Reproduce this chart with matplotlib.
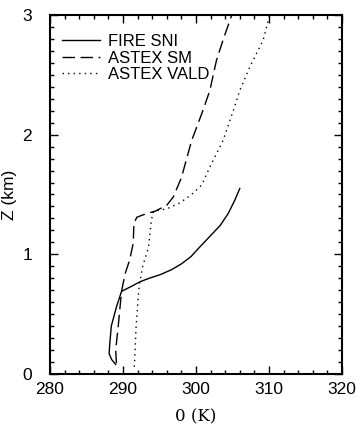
import numpy as np
import matplotlib.pyplot as plt
from matplotlib.ticker import MultipleLocator

plt.rcParams['font.family'] = ['Liberation Sans', 'DejaVu Sans']

# potential temperature (K) vs height (km)
fire_theta = [289.0, 288.45, 288.1, 288.2, 288.4, 289.1, 289.8, 291.4, 292.3, 293.6,
              295.1, 296.6, 298.0, 299.3, 300.5, 301.9, 303.3, 304.4, 305.3, 306.0]
fire_z = [0.08, 0.12, 0.17, 0.26, 0.40, 0.56, 0.69, 0.74, 0.77, 0.80,
          0.83, 0.87, 0.92, 0.98, 1.06, 1.15, 1.24, 1.34, 1.45, 1.55]

sm_theta = [289.1, 289.0, 289.35, 289.8, 290.3, 290.9, 291.4, 291.5, 291.9, 293.2,
            294.4, 296.0, 296.9, 298.0, 299.4, 301.0, 301.9, 302.8, 303.7, 304.9]
sm_z = [0.09, 0.20, 0.40, 0.69, 0.84, 0.95, 1.09, 1.26, 1.31, 1.34,
        1.36, 1.41, 1.48, 1.64, 1.95, 2.21, 2.37, 2.62, 2.79, 3.0]

vald_theta = [291.55, 291.8, 292.2, 292.7, 293.5, 293.9, 294.2, 296.0, 297.8, 299.4,
              300.8, 301.9, 303.7, 305.1, 306.0, 307.4, 309.2, 310.1]
vald_z = [0.06, 0.40, 0.73, 0.90, 1.06, 1.29, 1.36, 1.38, 1.43, 1.50,
          1.58, 1.73, 1.95, 2.20, 2.37, 2.57, 2.79, 3.0]

fig = plt.figure(figsize=(3.57, 4.41), dpi=100)
ax = fig.add_axes([0.14, 0.152, 0.818, 0.814])

ax.plot(fire_theta, fire_z, color='black', lw=1.0, label='FIRE SNI')
ax.plot(sm_theta, sm_z, color='black', lw=1.0, dashes=(9, 4), label='ASTEX SM')
ax.plot(vald_theta, vald_z, color='black', lw=1.0, dashes=(1, 3), label='ASTEX VALD')

ax.set_xlim(280, 320)
ax.set_ylim(0, 3)
ax.xaxis.set_major_locator(MultipleLocator(10))
ax.xaxis.set_minor_locator(MultipleLocator(2))
ax.yaxis.set_major_locator(MultipleLocator(1))
ax.yaxis.set_minor_locator(MultipleLocator(0.1))
ax.tick_params(which='both', direction='in', top=True, right=True, labelsize=12.5)
ax.tick_params(which='major', length=6, width=1)
ax.tick_params(which='minor', length=3, width=1)
ax.tick_params(axis='y', pad=13)
ax.tick_params(axis='x', pad=6)
for s in ax.spines.values():
    s.set_linewidth(1.5)

ax.set_ylabel('Z (km)', fontsize=12.5, labelpad=4)
ax.set_xlabel('0 (K)', fontsize=12, family='DejaVu Serif', labelpad=8)

ax.legend(loc='upper left', frameon=False, fontsize=12, handlelength=2.3,
          handletextpad=0.5, labelspacing=0.1, borderaxespad=0.3,
          bbox_to_anchor=(0.0, 0.98))

fig.savefig('out.png', dpi=100)
